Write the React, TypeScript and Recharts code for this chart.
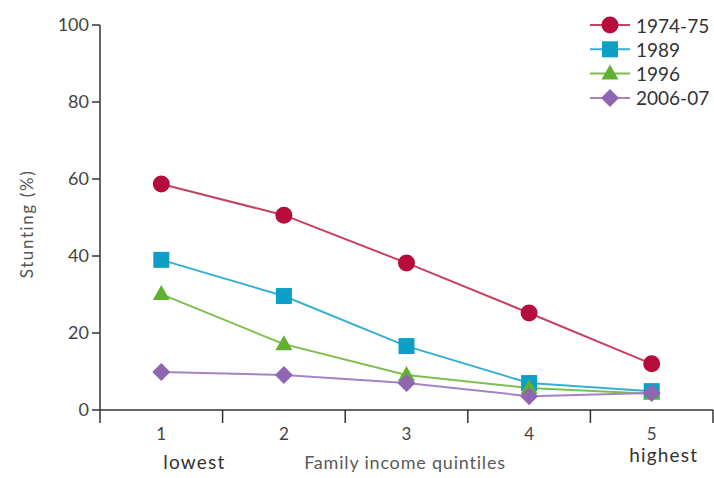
import { Line, LineChart, XAxis, YAxis } from "recharts";

const quintiles = [1, 2, 3, 4, 5];
const s1974 = [58.7, 50.6, 38.2, 25.2, 12.0];
const s1989 = [39.0, 29.6, 16.6, 7.0, 4.9];
const s1996 = [30.1, 17.1, 9.1, 5.7, 4.2];
const s2006 = [9.9, 9.1, 7.0, 3.6, 4.4];

const yTicks = [0, 20, 40, 60, 80, 100];
const bandTicks = [0.5, 1.5, 2.5, 3.5, 4.5, 5.5];
const extraLabels: Record<number, string> = { 1: "lowest", 5: "highest" };

const SERIES = [
  { key: "y1974", name: "1974-75", line: "#c8405f", mark: "#b70d3c", shape: "circle", values: s1974 },
  { key: "y1989", name: "1989", line: "#38aed0", mark: "#0ca0c6", shape: "square", values: s1989 },
  { key: "y1996", name: "1996", line: "#7cbf50", mark: "#62b032", shape: "triangle", values: s1996 },
  { key: "y2006", name: "2006-07", line: "#a584c4", mark: "#9066b2", shape: "diamond", values: s2006 },
];

const data = quintiles.map((q, i) => {
  const row: Record<string, number> = { q };
  SERIES.forEach((s) => (row[s.key] = s.values[i]));
  return row;
});

const FONT = "Lato, 'Open Sans', sans-serif";

function Marker({ shape, cx, cy, fill }: { shape: string; cx: number; cy: number; fill: string }) {
  if (shape === "circle") return <circle cx={cx} cy={cy} r={8.5} fill={fill} />;
  if (shape === "square") return <rect x={cx - 8} y={cy - 8} width={16} height={16} fill={fill} />;
  if (shape === "triangle")
    return <polygon points={`${cx},${cy - 9} ${cx + 8.5},${cy + 6} ${cx - 8.5},${cy + 6}`} fill={fill} />;
  return <polygon points={`${cx},${cy - 9} ${cx + 9},${cy} ${cx},${cy + 9} ${cx - 9},${cy}`} fill={fill} />;
}

function QuintileTick(props: any) {
  const { x, y, payload } = props;
  const v = payload.value as number;
  const extra = extraLabels[v];
  return (
    <g>
      <text x={x} y={y + 9} textAnchor="middle" fontSize={17} fill="#444" fontFamily={FONT}>
        {v}
      </text>
      {extra && (
        <text
          x={v === 1 ? x + 2 : x + 12}
          y={v === 1 ? y + 38 : y + 31}
          textAnchor={v === 1 ? "start" : "middle"}
          fontSize={19}
          fill="#333"
          fontFamily={FONT}
          letterSpacing={1.2}
        >
          {extra}
        </text>
      )}
    </g>
  );
}

const YTitle = () => (
  <text
    x={26}
    y={224}
    transform="rotate(-90 26 224)"
    textAnchor="middle"
    dominantBaseline="central"
    fontSize={17}
    fill="#555"
    fontFamily={FONT}
    letterSpacing={1.6}
  >
    Stunting (%)
  </text>
);

const XTitle = () => (
  <text x={405} y={469} textAnchor="middle" fontSize={18} fill="#5a5a5a" fontFamily={FONT} letterSpacing={0.8}>
    Family income quintiles
  </text>
);

function LegendBox() {
  return (
    <svg width={130} height={110} style={{ position: "absolute", left: 586, top: 0 }}>
      {SERIES.map((s, i) => {
        const cy = 25 + i * 24.3;
        return (
          <g key={s.key}>
            <line x1={4} x2={44} y1={cy} y2={cy} stroke={s.line} strokeWidth={2} />
            <Marker shape={s.shape} cx={24} cy={cy} fill={s.mark} />
            <text x={50} y={cy} dominantBaseline="central" fontSize={19} fill="#333" fontFamily={FONT}>
              {s.name}
            </text>
          </g>
        );
      })}
    </svg>
  );
}

export default function App() {
  return (
    <div style={{ position: "absolute", left: 0, top: 0, width: 714, height: 478, background: "#fff" }}>
      <LineChart width={714} height={478} data={data} margin={{ top: 25, right: 1, left: 0, bottom: 0 }}>
        <YAxis
          domain={[0, 100]}
          ticks={yTicks}
          width={100}
          tickSize={8}
          tickMargin={3}
          axisLine={{ stroke: "#333", strokeWidth: 1.5 }}
          tickLine={{ stroke: "#333", strokeWidth: 1.5 }}
          tick={{ fontSize: 18, fill: "#444", fontFamily: FONT }}
          label={<YTitle />}
        />
        <XAxis
          xAxisId="bounds"
          type="number"
          dataKey="q"
          domain={[0.5, 5.5]}
          ticks={bandTicks}
          height={13}
          tickSize={13}
          tickFormatter={() => ""}
          axisLine={{ stroke: "#333", strokeWidth: 1.5 }}
          tickLine={{ stroke: "#333", strokeWidth: 1.5 }}
        />
        <XAxis
          xAxisId="labels"
          type="number"
          dataKey="q"
          domain={[0.5, 5.5]}
          ticks={quintiles}
          height={55}
          axisLine={false}
          tickLine={false}
          tick={<QuintileTick />}
          label={<XTitle />}
        />
        {SERIES.map((s) => (
          <Line
            key={s.key}
            xAxisId="labels"
            dataKey={s.key}
            name={s.name}
            stroke={s.line}
            strokeWidth={2}
            isAnimationActive={false}
            dot={(p: any) => <Marker key={`${s.key}-${p.index}`} shape={s.shape} cx={p.cx} cy={p.cy} fill={s.mark} />}
            activeDot={false}
          />
        ))}
      </LineChart>
      <LegendBox />
    </div>
  );
}
